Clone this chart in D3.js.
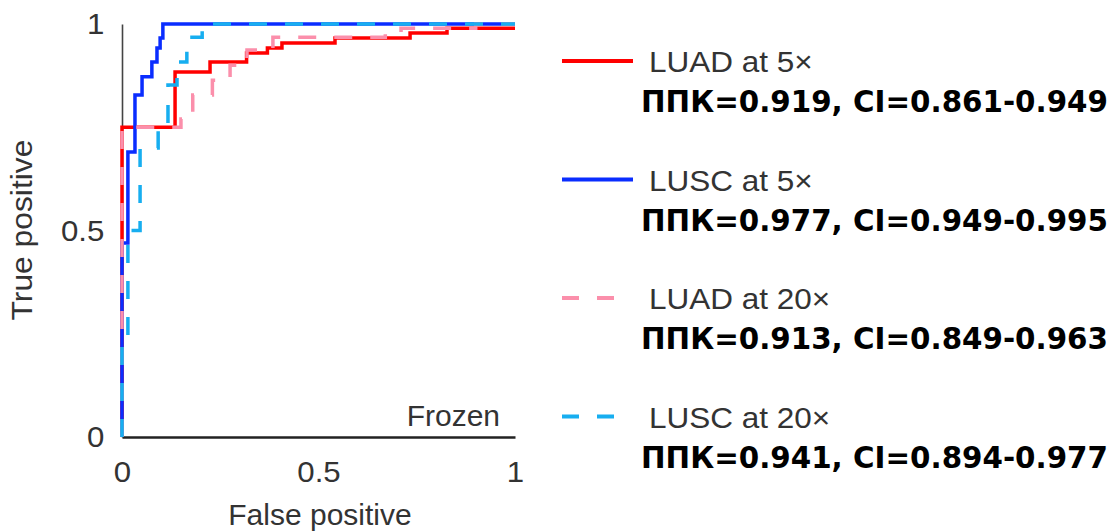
<!DOCTYPE html>
<html><head><meta charset="utf-8">
<script src="https://cdn.jsdelivr.net/npm/d3@7"></script>
<style>
html,body{margin:0;padding:0;background:#fff;}
svg{display:block;}
</style></head>
<body>
<svg id="chart" width="1120" height="531"></svg>
<script>
// ---- data ----
const seriesNames = ["LUAD at 5×", "LUSC at 5×", "LUAD at 20×", "LUSC at 20×"];
const aucValues = ["0.919", "0.977", "0.913", "0.941"];
const ciLow = ["0.861", "0.949", "0.849", "0.894"];
const ciHigh = ["0.949", "0.995", "0.963", "0.977"];
// ROC step vertices [fpr, tpr] (top of each vertical jump)
const rocLUAD5 = [[0,0],[0,0.75],[0.135,0.884],[0.224,0.908],[0.317,0.93],[0.37,0.942],[0.407,0.954],[0.542,0.966],[0.733,0.978],[0.827,0.99],[1,0.99]];
const rocLUSC5 = [[0,0],[0,0.47],[0.015,0.69],[0.033,0.828],[0.051,0.872],[0.076,0.908],[0.089,0.942],[0.097,0.966],[0.104,1],[1,1]];
const rocLUAD20 = [[0,0],[0,0.75],[0.15,0.77],[0.18,0.828],[0.23,0.864],[0.275,0.9],[0.318,0.937],[0.384,0.968],[0.67,0.978],[0.71,0.99],[0.9,1],[1,1]];
const rocLUSC20 = [[0,0],[0,0.22],[0.015,0.5],[0.046,0.70],[0.092,0.743],[0.117,0.852],[0.14,0.908],[0.165,0.968],[0.204,1],[1,1]];
const xTicks = [0, 0.5, 1];
const yTicks = [0, 0.5, 1];
const tickLabels = ["0", "0.5", "1"];
const xTitle = "False positive";
const yTitle = "True positive";
const panelLabel = "Frozen";

// ---- styles ----
const colors = ["#ff0000", "#0a2dff", "#fb8fab", "#17aef0"];
const dashed = [false, false, true, true];
const dashPattern = "18,18";
const curves = [rocLUAD5, rocLUSC5, rocLUAD20, rocLUSC20];
const textColor = "#333";
const sans = "'Liberation Sans', Arial, sans-serif";

const svg = d3.select("#chart");
const x = d3.scaleLinear().domain([0,1]).range([122,515]);
const y = d3.scaleLinear().domain([0,1]).range([437,24]);

// axes
const xAxis = svg.append("g").attr("transform", `translate(0,${y(0)})`)
  .call(d3.axisBottom(x).tickValues(xTicks).tickSize(0).tickSizeOuter(0).tickPadding(24)
        .tickFormat((d,i)=>tickLabels[i]));
xAxis.select(".domain").attr("stroke", "#222").attr("stroke-width", 2.5);
const yAxis = svg.append("g").attr("transform", `translate(${x(0)},0)`)
  .call(d3.axisLeft(y).tickValues(yTicks).tickSize(0).tickSizeOuter(0).tickPadding(17)
        .tickFormat((d,i)=>tickLabels[i]));
yAxis.select(".domain").attr("stroke", "#444").attr("stroke-width", 1.6);
svg.selectAll(".tick text").attr("font-family", sans).attr("font-size", 30).attr("fill", textColor)
  .attr("transform", "scale(1.04,1)");

// curves
const line = d3.line().x(d=>x(d[0])).y(d=>y(d[1])).curve(d3.curveStepAfter);
curves.forEach((c,i)=>{
  svg.append("path").datum(c)
    .attr("d", line)
    .attr("fill", "none")
    .attr("stroke", colors[i])
    .attr("stroke-width", 3.5)
    .attr("stroke-dasharray", dashed[i] ? dashPattern : null);
});

// titles
svg.append("text").attr("x", 320).attr("y", 525).attr("text-anchor","middle")
  .attr("font-family", sans).attr("font-size", 30).attr("fill", textColor).text(xTitle);
svg.append("text").attr("transform","translate(32,230) rotate(-90) scale(1.06,1)").attr("text-anchor","middle")
  .attr("font-family", sans).attr("font-size", 30).attr("fill", textColor).text(yTitle);
svg.append("text").attr("x", 500).attr("y", 426).attr("text-anchor","end")
  .attr("font-family", sans).attr("font-size", 30).attr("fill", textColor).text(panelLabel);

// legend
const step = 118.5;
seriesNames.forEach((name,i)=>{
  const g = svg.append("g").attr("transform", `translate(0,${i*step})`);
  g.append("line").attr("x1",562).attr("x2", dashed[i] ? 615 : 633).attr("y1",61).attr("y2",61)
    .attr("stroke", colors[i]).attr("stroke-width", 4)
    .attr("stroke-dasharray", dashed[i] ? "17,18" : null);
  g.append("text").attr("transform","translate(649,72) scale(1.05,1)")
    .attr("font-family", sans).attr("font-size", 30).attr("fill", textColor).text(name);
  const t = g.append("text").attr("x",641).attr("y",112)
    .attr("font-family", "'DejaVu Sans', 'Noto Sans', sans-serif").attr("font-weight", 700)
    .attr("font-size", 30).attr("fill", "#000")
    .text(`ППК=${aucValues[i]}, CI=${ciLow[i]}-${ciHigh[i]}`);
  const len = t.node().getComputedTextLength();
  t.attr("font-size", 30 * 467 / len);
});
</script>
</body></html>
